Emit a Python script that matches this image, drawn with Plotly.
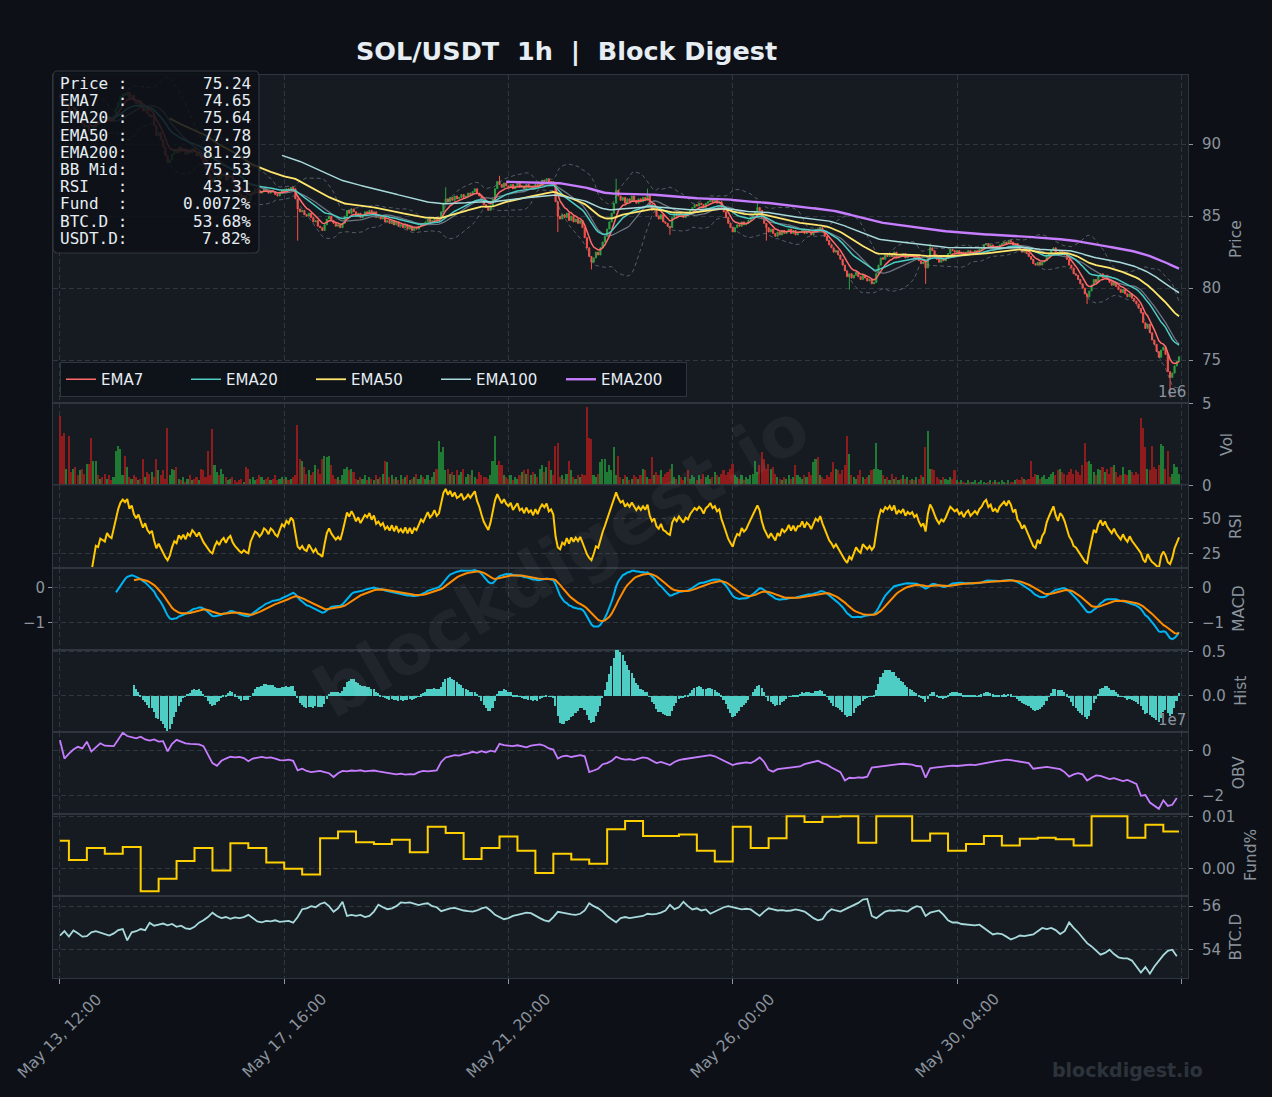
import numpy as np
import pandas as pd
import plotly.graph_objects as go
from plotly.subplots import make_subplots

# ---------------- data ----------------
START = "2025-05-13 12:00"
FIRST_OPEN = 93.4

CLOSE = [
    93.2, 93.0, 92.7, 92.8, 92.4, 92.1, 92.3, 91.9, 91.6, 91.8,
    91.4, 91.2, 91.3, 90.9, 90.8, 91.2, 91.6, 91.5, 91.8, 91.7,
    91.6, 91.9, 91.7, 91.6, 92.0, 92.5, 92.9, 93.3, 93.5, 93.4,
    93.6, 93.2, 93.4, 93.0, 92.8, 93.0, 92.6, 92.3, 92.5, 92.1,
    91.9, 92.0, 91.3, 90.6, 90.8, 90.3, 89.8, 89.2, 88.7, 88.9,
    89.3, 89.6, 89.4, 89.8, 89.5, 89.7, 89.3, 89.6, 89.4, 89.7,
    89.5, 89.2, 89.4, 89.0, 88.6, 88.3, 87.9, 87.6, 87.4, 87.7,
    87.9, 87.6, 87.8, 87.9, 87.5, 87.7, 87.8, 87.3, 87.0, 86.7,
    86.5, 86.3, 86.4, 86.2, 86.1, 86.5, 86.7, 86.9, 86.8, 86.6,
    86.7, 86.9, 86.8, 86.6, 86.8, 86.7, 86.5, 86.4, 86.6, 86.8,
    86.7, 86.9, 86.8, 87.0, 86.9, 86.2, 85.5, 85.3, 85.4, 85.1,
    85.0, 85.2, 84.9, 84.6, 84.7, 84.3, 84.2, 84.0, 84.4, 84.8,
    85.0, 84.7, 84.5, 84.3, 84.4, 84.2, 84.5, 85.0, 85.4, 85.2,
    85.5, 85.3, 85.0, 85.2, 84.9, 85.1, 85.3, 85.2, 85.4, 85.1,
    85.3, 84.9, 85.0, 84.8, 84.9, 84.6, 84.7, 84.5, 84.7, 84.4,
    84.6, 84.3, 84.4, 84.2, 84.4, 84.1, 84.3, 84.0, 84.2, 84.1,
    84.3, 84.5, 84.4, 84.6, 84.8, 84.6, 84.7, 84.9, 84.7, 84.8,
    85.3, 85.9, 86.2, 86.0, 86.3, 86.1, 86.4, 86.2, 86.3, 86.5,
    86.3, 86.4, 86.6, 86.5, 86.7, 86.9, 86.6, 86.4, 86.1, 85.8,
    85.6, 85.4, 85.7, 86.2, 86.9, 87.4, 87.2, 87.0, 87.3, 87.1,
    87.0, 87.2, 86.9, 87.1, 87.3, 87.0, 87.1, 86.9, 87.2, 87.0,
    87.1, 86.9, 87.2, 87.0, 87.3, 87.5, 87.4, 87.6, 87.3, 87.4,
    87.2, 86.0, 85.0, 84.8, 85.1, 84.9, 85.2, 84.7, 85.0, 84.6,
    84.8, 84.5, 84.7, 84.2, 83.5, 82.8, 82.2, 81.8, 82.1, 82.5,
    82.3, 82.8, 83.2, 83.6, 84.1, 84.6, 85.2, 85.9, 86.8, 86.4,
    86.1, 86.3, 85.9, 86.2, 86.0, 86.4, 86.1, 85.9, 86.2, 86.0,
    86.3, 86.1, 86.5, 85.8, 85.4, 85.6, 85.0, 84.8, 85.1, 84.6,
    84.5, 84.3, 84.2, 84.9, 85.2, 85.0, 85.3, 85.1, 84.9, 85.2,
    85.1, 85.4, 85.6, 85.8, 85.7, 85.9, 85.8, 85.6, 85.9, 86.0,
    86.2, 86.0, 86.1, 85.9, 86.0, 85.6, 85.3, 84.9, 84.5, 84.2,
    83.9, 84.2, 84.4, 84.3, 84.6, 84.4, 84.5, 84.7, 84.9, 85.1,
    85.3, 85.6, 85.4, 84.9, 84.5, 84.2, 83.9, 84.1, 83.8, 83.6,
    83.9, 83.7, 84.0, 83.8, 83.9, 84.1, 83.8, 84.0, 83.7, 83.9,
    83.9, 84.1, 83.8, 84.0, 83.9, 83.7, 83.9, 84.1, 84.0, 84.2,
    83.9, 83.6, 83.3, 83.0, 82.8, 82.5, 82.6, 82.3, 82.0, 81.6,
    81.2, 80.8, 81.0, 80.7, 80.9, 81.1, 80.8, 80.6, 80.9, 80.7,
    80.5, 80.6, 80.3, 80.4, 81.0, 81.6, 82.1, 82.0, 82.3, 82.2,
    82.4, 82.2, 82.5, 82.1, 82.3, 82.2, 82.4, 82.1, 82.3, 82.2,
    82.3, 82.1, 82.2, 81.9, 81.7, 81.8, 81.4, 82.2, 82.8, 82.6,
    82.3, 82.0, 81.8, 82.0, 81.9, 82.1, 82.4, 82.7, 82.6, 82.5,
    82.6, 82.4, 82.5, 82.3, 82.5, 82.6, 82.4, 82.5, 82.6, 82.5,
    82.7, 82.8, 83.0, 83.1, 82.9, 83.0, 82.8, 82.9, 82.8, 83.0,
    83.1, 83.2, 83.1, 83.3, 83.2, 83.0, 83.1, 82.8, 82.7, 82.5,
    82.6, 82.4, 82.2, 82.0, 81.7, 81.6, 81.8, 81.6, 81.8, 81.9,
    82.2, 82.4, 82.6, 82.8, 82.5, 82.3, 82.6, 82.5, 82.3, 82.0,
    81.6, 81.4, 81.0, 80.9, 80.6, 80.3, 80.0, 79.6, 79.4, 79.8,
    80.2, 80.6, 80.4, 80.8, 81.0, 80.7, 80.9, 80.6, 80.4, 80.2,
    80.4, 80.1, 79.9, 79.7, 79.9, 79.6, 79.4, 79.6, 79.3, 79.1,
    78.9, 78.6, 78.3, 77.6, 77.2, 77.5, 76.9, 76.4, 76.1, 75.6,
    75.2, 75.7, 75.9, 75.4, 74.2, 73.8, 74.1, 74.6, 74.9, 75.24,
]

WICK_HIGH = {172: 87.0, 196: 87.8, 248: 87.6, 262: 86.9, 311: 85.9, 388: 83.1}
WICK_LOW = {106: 83.3, 222: 83.9, 237: 81.3, 272: 83.7, 315: 83.3, 352: 79.9,
            386: 80.3, 458: 78.9, 495: 72.4}

VOLUME_M = [
    4.2, 3.0, 3.2, 1.0, 3.0, 0.8, 1.0, 1.1, 0.6, 0.9,
    1.0, 0.7, 1.3, 1.3, 2.9, 1.5, 1.5, 0.6, 0.4, 0.5,
    0.7, 0.4, 0.6, 0.3, 0.5, 2.1, 2.4, 2.2, 0.6, 1.8,
    1.1, 0.5, 0.4, 0.6, 0.5, 0.3, 0.4, 1.6, 0.5, 0.8,
    0.7, 0.8, 0.5, 1.6, 0.9, 0.6, 0.9, 0.4, 3.5, 0.6,
    1.0, 0.9, 1.1, 0.4, 0.3, 0.5, 0.2, 0.4, 0.6, 0.3,
    0.4, 0.5, 0.3, 1.0, 0.9, 0.5, 2.1, 0.6, 3.4, 1.2,
    0.8, 0.6, 1.0, 0.7, 0.5, 0.3, 0.4, 0.5, 0.3, 0.2,
    0.3, 0.4, 0.2, 1.1, 1.0, 0.4, 0.5, 0.3, 0.4, 0.6,
    0.5, 0.3, 0.4, 0.5, 0.3, 0.4, 0.6, 0.3, 0.4, 0.5,
    0.4, 0.5, 0.3, 0.4, 0.5, 0.6, 3.7, 1.6, 1.5, 1.1,
    0.7, 0.9, 0.6, 0.8, 1.2, 1.0, 0.7, 1.6, 1.8, 1.7,
    1.8, 1.2, 0.6, 0.4, 0.5, 0.3, 0.6, 1.0, 1.1, 0.9,
    1.0, 0.8, 0.4, 0.3, 0.5, 0.4, 0.6, 0.3, 0.5, 0.4,
    0.3, 0.6, 0.4, 0.5, 0.7, 1.5, 1.4, 0.5, 0.6, 0.4,
    0.5, 0.3, 0.6, 0.4, 0.5, 0.6, 0.3, 0.4, 0.5, 0.7,
    0.4, 0.6, 0.5, 0.4, 0.6, 0.3, 0.5, 0.8, 1.0, 2.7,
    2.0, 2.3, 0.9, 1.0, 0.7, 0.8, 0.6, 0.9, 0.6, 0.8,
    1.0, 0.5, 0.7, 0.6, 0.9, 0.5, 0.4, 0.8, 0.6, 0.5,
    0.5, 0.4, 0.6, 1.5, 3.0, 1.2, 1.5, 1.2, 0.6, 0.5,
    0.4, 0.6, 0.3, 0.5, 0.4, 0.6, 0.8, 0.9, 0.7, 1.0,
    0.6, 0.8, 0.7, 0.5, 1.0, 1.2, 0.8, 1.1, 1.5, 0.9,
    0.6, 2.4, 2.6, 0.5, 0.6, 0.4, 0.7, 1.5, 0.9, 0.5,
    0.4, 0.6, 0.5, 0.7, 0.6, 4.8, 2.9, 2.8, 0.6, 0.5,
    0.7, 1.4, 1.6, 1.6, 0.8, 1.2, 0.9, 2.3, 0.6, 1.8,
    0.5, 0.4, 0.6, 0.5, 0.3, 0.4, 0.6, 0.5, 0.4, 0.6,
    1.0, 0.9, 0.5, 0.4, 1.7, 0.6, 0.8, 0.6, 0.9, 0.5,
    0.7, 0.8, 1.0, 1.3, 0.5, 0.4, 0.6, 0.5, 0.3, 0.5,
    0.9, 0.4, 0.6, 0.5, 0.3, 0.6, 0.4, 0.7, 0.5, 0.6,
    0.4, 0.5, 0.8, 0.6, 0.5, 0.7, 0.9, 0.6, 0.8, 1.0,
    1.3, 0.6, 0.5, 0.4, 0.6, 0.3, 0.5, 0.4, 0.6, 0.7,
    1.5, 0.8, 1.2, 2.0, 1.6, 1.0, 1.3, 1.0, 1.1, 0.7,
    0.5, 0.4, 0.3, 0.5, 0.4, 0.6, 0.4, 0.5, 1.2, 0.6,
    0.5, 0.4, 0.6, 0.5, 0.8, 0.6, 1.4, 1.6, 1.7, 0.6,
    0.5, 0.4, 0.6, 0.5, 0.8, 1.4, 1.0, 0.9, 0.7, 0.9,
    1.2, 3.0, 1.9, 0.6, 0.5, 0.4, 0.6, 0.9, 0.5, 0.4,
    0.5, 0.6, 0.9, 1.0, 2.6, 1.0, 0.9, 0.6, 0.4, 0.5,
    0.3, 0.7, 0.4, 0.5, 0.3, 0.4, 0.6, 0.4, 0.5, 0.3,
    0.4, 0.3, 0.5, 0.4, 0.6, 0.5, 2.3, 3.3, 1.0, 1.0,
    0.9, 0.5, 0.4, 0.3, 0.5, 0.4, 0.3, 0.5, 0.4, 0.9,
    0.3, 0.2, 0.3, 0.2, 0.1, 0.3, 0.2, 0.2, 0.3, 0.1,
    0.2, 0.3, 0.2, 0.1, 0.2, 0.3, 0.2, 0.3, 0.2, 0.2,
    0.3, 0.2, 0.1, 0.3, 0.2, 0.2, 0.3, 0.4, 0.3, 0.5,
    0.4, 0.3, 0.4, 1.5, 0.5, 0.7, 0.6, 0.4, 0.5, 0.6,
    0.4, 0.5, 0.7, 0.8, 0.6, 0.9, 1.0, 0.8, 0.7, 0.6,
    0.8, 1.0, 0.7, 0.9, 0.8, 0.6, 1.2, 2.6, 1.4, 1.5,
    1.3, 0.8, 0.6, 1.0, 0.9, 1.1, 0.8, 1.0, 0.7, 1.1,
    1.2, 0.8, 0.5, 0.6, 1.1, 0.7, 0.6, 0.9, 0.8, 0.6,
    0.8, 0.7, 4.1, 3.5, 2.3, 1.0, 0.9, 2.4, 1.1, 1.0,
    1.2, 2.5, 2.4, 1.0, 2.1, 0.5, 0.7, 1.3, 1.1, 0.7,
]

# OBV (x1e7), one value every 2 hours
OBV_2H_E7 = [
    0.46, -0.35, -0.13, 0.05, 0.17, 0.10, 0.40, -0.04, 0.15, 0.33,
    0.22, 0.22, 0.20, 0.50, 0.79, 0.65, 0.60, 0.55, 0.62, 0.50,
    0.45, 0.50, 0.40, 0.42, -0.03, 0.30, 0.48, 0.40, 0.32, 0.30,
    0.30, 0.28, 0.20, -0.20, -0.55, -0.67, -0.45, -0.35, -0.27, -0.30,
    -0.28, -0.33, -0.47, -0.35, -0.30, -0.28, -0.32, -0.30, -0.35, -0.42,
    -0.43, -0.40, -0.45, -0.87, -0.80, -0.90, -0.95, -0.93, -0.90, -0.95,
    -1.00, -1.17, -1.00, -0.90, -0.92, -0.88, -0.90, -0.87, -0.92, -0.90,
    -0.88, -0.92, -0.95, -1.00, -1.03, -1.05, -1.02, -1.06, -1.04, -1.05,
    -0.95, -0.90, -0.92, -0.90, -0.88, -0.50, -0.30, -0.25, -0.20, -0.22,
    -0.15, -0.12, -0.05, -0.10, -0.02, -0.08, 0.00, -0.05, 0.30, 0.25,
    0.22, 0.20, 0.24, 0.18, 0.15, 0.22, 0.25, 0.28, 0.22, 0.10,
    0.05, -0.35, -0.25, -0.22, -0.28, -0.25, -0.20, -0.25, -0.95, -0.88,
    -0.80, -0.60, -0.55, -0.45, -0.27, -0.35, -0.40, -0.38, -0.42, -0.35,
    -0.30, -0.33, -0.45, -0.55, -0.50, -0.58, -0.64, -0.50, -0.42, -0.38,
    -0.35, -0.30, -0.28, -0.27, -0.22, -0.20, -0.25, -0.35, -0.45, -0.55,
    -0.64, -0.58, -0.55, -0.52, -0.55, -0.45, -0.30, -0.50, -0.85, -0.93,
    -0.82, -0.80, -0.78, -0.75, -0.72, -0.70, -0.60, -0.55, -0.48, -0.45,
    -0.55, -0.62, -0.75, -0.85, -0.95, -1.32, -1.20, -1.22, -1.18, -1.20,
    -1.15, -0.75, -0.72, -0.70, -0.68, -0.65, -0.62, -0.60, -0.58, -0.60,
    -0.62, -0.68, -0.70, -1.20, -0.78, -0.75, -0.72, -0.70, -0.68, -0.66,
    -0.68, -0.66, -0.65, -0.62, -0.64, -0.60, -0.55, -0.50, -0.47, -0.45,
    -0.43, -0.40, -0.42, -0.45, -0.50, -0.52, -0.55, -0.80, -0.78, -0.75,
    -0.72, -0.75, -0.80, -0.82, -0.95, -1.15, -1.05, -1.00, -1.05, -1.32,
    -1.20, -1.10, -1.12, -1.18, -1.26, -1.22, -1.30, -1.35, -1.30, -1.40,
    -1.47, -2.00, -1.97, -2.30, -2.43, -2.58, -2.20, -2.45, -2.40, -2.10,
]

# BTC dominance (%), one value every 2 hours
BTCD_2H = [
    54.65, 54.85, 54.60, 54.88, 54.75, 54.60, 54.62, 54.80, 54.85, 54.78,
    54.70, 54.65, 54.75, 54.90, 54.95, 54.43, 54.80, 54.85, 54.95, 54.90,
    55.24, 55.10, 55.15, 55.20, 55.12, 55.18, 55.05, 55.10, 54.98, 54.95,
    55.05, 55.24, 55.35, 55.50, 55.70, 55.55, 55.45, 55.50, 55.42, 55.48,
    55.45, 55.50, 55.60, 55.45, 55.30, 55.26, 55.32, 55.30, 55.35, 55.28,
    55.30, 55.32, 55.24, 55.50, 55.86, 55.90, 56.00, 55.95, 56.10, 56.17,
    56.00, 55.74, 55.90, 56.20, 55.55, 55.60, 55.55, 55.60, 55.50, 55.55,
    55.75, 56.07, 55.95, 55.86, 55.90, 56.00, 56.17, 56.15, 56.17, 56.10,
    56.05, 56.10, 56.13, 56.00, 55.95, 55.77, 55.85, 55.90, 55.92, 55.85,
    55.80, 55.77, 55.75, 55.80, 55.90, 55.95, 55.80, 55.60, 55.50, 55.40,
    55.45, 55.55, 55.60, 55.65, 55.70, 55.68, 55.55, 55.45, 55.35, 55.30,
    55.50, 55.74, 55.70, 55.65, 55.62, 55.60, 55.65, 55.80, 56.13, 56.00,
    55.90, 55.75, 55.55, 55.40, 55.26, 55.45, 55.50, 55.45, 55.48, 55.50,
    55.55, 55.65, 55.62, 55.65, 55.70, 55.80, 56.06, 55.86, 55.95, 56.20,
    56.00, 55.85, 55.90, 55.80, 55.85, 55.65, 55.75, 55.85, 55.95, 56.00,
    55.95, 55.90, 55.85, 55.88, 55.85, 55.70, 55.55, 55.75, 55.90, 55.85,
    55.80, 55.82, 55.78, 55.80, 55.85, 55.80, 55.75, 55.60, 55.45, 55.35,
    55.40, 55.70, 55.86, 55.80, 55.75, 55.85, 55.95, 56.06, 56.15, 56.30,
    56.33, 55.55, 55.45, 55.60, 55.75, 55.80, 55.78, 55.82, 55.80, 55.75,
    55.90, 56.00, 55.95, 55.55, 55.70, 55.75, 55.80, 55.60, 55.35, 55.25,
    55.25, 55.18, 55.15, 55.15, 55.12, 55.15, 55.00, 54.85, 54.70, 54.75,
    54.72, 54.60, 54.47, 54.55, 54.65, 54.62, 54.65, 54.70, 54.85, 55.00,
    54.95, 55.00, 54.90, 54.72, 54.85, 55.25, 55.00, 54.80, 54.55, 54.30,
    54.15, 53.95, 53.77, 53.85, 54.00, 53.80, 53.65, 53.60, 53.60, 53.50,
    53.20, 52.95, 53.20, 52.90, 53.23, 53.50, 53.75, 53.95, 54.00, 53.70,
]

# funding rate (%) per 8h funding period (first value from the start, then at 16:00/00:00/08:00)
FUND_PCT = [
    0.0054, 0.0017, 0.0040, 0.0029, 0.0042, -0.0043, -0.0019, 0.0015, 0.0040, -0.0003,
    0.0049, 0.0040, 0.0012, 0.0000, -0.0011, 0.0059, 0.0072, 0.0051, 0.0048, 0.0056,
    0.0032, 0.0081, 0.0069, 0.0019, 0.0040, 0.0062, 0.0035, -0.0008, 0.0029, 0.0018,
    0.0010, 0.0076,
    0.0092, 0.0063, 0.0063, 0.0066, 0.0035, 0.0014, 0.0081, 0.0040, 0.0059, 0.0101,
    0.0090, 0.0100, 0.0101, 0.0050, 0.0101, 0.0101, 0.0054, 0.0068, 0.0035, 0.0048,
    0.0063, 0.0045, 0.0058, 0.0060, 0.0057, 0.0045, 0.0101, 0.0101, 0.0060, 0.0085,
    0.0072,
]

XTICK_HOURS = [0, 100, 200, 300, 400, 500]
XTICK_LABELS = ["May 13, 12:00", "May 17, 16:00", "May 21, 20:00",
                "May 26, 00:00", "May 30, 04:00", ""]

INFO_LABELS = ["Price :", "EMA7  :", "EMA20 :", "EMA50 :", "EMA200:",
               "BB Mid:", "RSI   :", "Fund  :", "BTC.D :", "USDT.D:"]
INFO_VALUES = ["75.24", "74.65", "75.64", "77.78", "81.29",
               "75.53", "43.31", "0.0072%", "53.68%", "7.82%"]

assert len(CLOSE) == 500 and len(VOLUME_M) == 500
assert len(OBV_2H_E7) == 250 and len(BTCD_2H) == 250 and len(FUND_PCT) == 63

# ---------------- styling ----------------
BG = "#0d1117"
PANEL = "#161b22"
GRID = "#30363d"
TXT = "#8b949e"
WHITE = "#e6edf3"
UP = "#2ea043"
DOWN = "#f85149"
VOL_UP = "#1f7a33"
VOL_DOWN = "#8e1c1c"

W, H = 1272, 1097
ML, MR, MT, MB = 53, 84, 75, 119
PW, PH = W - ML - MR, H - MT - MB


def xp(px):
    return (px - ML) / PW


def yp(py):
    return (H - MB - py) / PH


# ---------------- derived series ----------------
t0 = pd.Timestamp(START)
n = len(CLOSE)
times = t0 + pd.to_timedelta(np.arange(n), unit="h")
close = pd.Series(CLOSE, dtype=float)
open_ = close.shift(1)
open_.iloc[0] = FIRST_OPEN
high = np.maximum(open_, close).to_numpy().copy()
low = np.minimum(open_, close).to_numpy().copy()
for k, v in WICK_HIGH.items():
    high[k] = max(high[k], v)
for k, v in WICK_LOW.items():
    low[k] = min(low[k], v)


def ema(s, span):
    e = s.ewm(span=span, adjust=False).mean()
    e.iloc[:span - 1] = np.nan
    return e


ema7, ema20, ema50, ema100, ema200 = (ema(close, s) for s in (7, 20, 50, 100, 200))
bb_mid = close.rolling(20).mean()
bb_std = close.rolling(20).std(ddof=0)
bb_up, bb_lo = bb_mid + 2 * bb_std, bb_mid - 2 * bb_std

# Wilder RSI(14)
delta = close.diff()
gain = delta.clip(lower=0).ewm(alpha=1 / 14, adjust=False, min_periods=14).mean()
loss = (-delta.clip(upper=0)).ewm(alpha=1 / 14, adjust=False, min_periods=14).mean()
rsi = 100 - 100 / (1 + gain / loss)

macd = close.ewm(span=12, adjust=False).mean() - close.ewm(span=26, adjust=False).mean()
macd.iloc[:25] = np.nan
signal = macd.ewm(span=9, adjust=False, min_periods=9).mean()
hist = macd - signal

vol_colors = [VOL_UP if c >= o else VOL_DOWN for c, o in zip(close, open_)]

t2h = t0 + pd.to_timedelta(np.arange(len(OBV_2H_E7)) * 2, unit="h")
fund_hours = [0] + [4 + 8 * k for k in range(len(FUND_PCT) - 1)]
fund_t = list(t0 + pd.to_timedelta(fund_hours, unit="h")) + [times[-1]]
fund_v = FUND_PCT + [FUND_PCT[-1]]

bar_w = 0.72 * 3600 * 1000

# ---------------- figure ----------------
fig = make_subplots(rows=8, cols=1, shared_xaxes=True, vertical_spacing=0,
                    row_heights=[4, 1, 1, 1, 1, 1, 1, 1])

fig.add_trace(go.Candlestick(
    x=times, open=open_, high=high, low=low, close=close,
    increasing=dict(line=dict(color=UP, width=1), fillcolor=UP),
    decreasing=dict(line=dict(color=DOWN, width=1), fillcolor=DOWN),
    whiskerwidth=0, showlegend=False, name="SOL"), row=1, col=1)

for s in (bb_up, bb_lo):
    fig.add_trace(go.Scatter(x=times, y=s, mode="lines", showlegend=False,
                             line=dict(color="rgba(139,148,158,0.55)", width=1, dash="4px,3px")),
                  row=1, col=1)
fig.add_trace(go.Scatter(x=times, y=bb_mid, mode="lines", showlegend=False,
                         line=dict(color="#6e7681", width=1.3)), row=1, col=1)

for name, s, col, w in (("EMA7", ema7, "#ff6b6b", 1.5), ("EMA20", ema20, "#4ecdc4", 1.5),
                        ("EMA50", ema50, "#ffe66d", 1.8), ("EMA100", ema100, "#a8dadc", 1.5),
                        ("EMA200", ema200, "#c77dff", 2.4)):
    fig.add_trace(go.Scatter(x=times, y=s, mode="lines", name=name,
                             line=dict(color=col, width=w)), row=1, col=1)

fig.add_trace(go.Bar(x=times, y=VOLUME_M, marker_color=vol_colors, marker_line_width=0,
                     width=bar_w, showlegend=False), row=2, col=1)
fig.add_trace(go.Scatter(x=times, y=rsi, mode="lines", showlegend=False,
                         line=dict(color="#ffc800", width=2)), row=3, col=1)
fig.add_trace(go.Scatter(x=times, y=macd, mode="lines", showlegend=False,
                         line=dict(color="#00b4f0", width=2)), row=4, col=1)
fig.add_trace(go.Scatter(x=times, y=signal, mode="lines", showlegend=False,
                         line=dict(color="#ff8c00", width=2)), row=4, col=1)
fig.add_trace(go.Bar(x=times, y=hist, marker_color="#4ecdc4", marker_line_width=0,
                     width=bar_w, showlegend=False), row=5, col=1)
fig.add_trace(go.Scatter(x=t2h, y=OBV_2H_E7, mode="lines", showlegend=False,
                         line=dict(color="#c77dff", width=1.8)), row=6, col=1)
fig.add_trace(go.Scatter(x=fund_t, y=fund_v, mode="lines", line_shape="hv", showlegend=False,
                         line=dict(color="#ffd000", width=2)), row=7, col=1)
fig.add_trace(go.Scatter(x=t2h, y=BTCD_2H, mode="lines", showlegend=False,
                         line=dict(color="#a8dadc", width=1.8)), row=8, col=1)
# invisible copy of MACD on a left-hand twin axis (left tick labels of the MACD panel)
fig.add_trace(go.Scatter(x=times, y=macd, mode="lines", showlegend=False, hoverinfo="skip",
                         line=dict(width=0, color="rgba(0,0,0,0)"), xaxis="x4", yaxis="y9"))

xr = [t0 + pd.Timedelta(hours=-3.1), t0 + pd.Timedelta(hours=503)]
tickvals = list(t0 + pd.to_timedelta(XTICK_HOURS, unit="h"))
fig.update_xaxes(range=xr, tickvals=tickvals, showticklabels=False, showgrid=True,
                 gridcolor=GRID, griddash="5px,3px", gridwidth=1, zeroline=False,
                 showline=True, linecolor=GRID, linewidth=1, mirror=True,
                 rangeslider_visible=False, ticks="")
fig.update_xaxes(ticks="outside", ticklen=5, tickcolor=TXT, row=8, col=1)

axis_common = dict(side="right", showgrid=True, gridcolor=GRID, griddash="5px,3px",
                   zeroline=False, showline=True, linecolor=GRID, linewidth=1, mirror=True,
                   ticks="outside", ticklen=4, tickcolor=TXT,
                   tickfont=dict(color=TXT, size=15), ticklabelstandoff=6)
Y_SPECS = [
    ("Price", [72.0, 94.8], [75, 80, 85, 90], None),
    ("Vol", [0, 5.02], [0, 5], None),
    ("RSI", [15.0, 73.6], [25, 50], None),
    ("MACD", [-1.75, 0.56], [-1, 0], None),
    ("Hist", [-0.41, 0.523], [0.0, 0.5], ".1f"),
    ("OBV", [-2.8, 0.84], [-2, 0], None),
    ("Fund%", [-0.0052, 0.01058], [0.0, 0.01], ".2f"),
    ("BTC.D", [52.7, 56.47], [54, 56], None),
]
for i, (title, rng, tv, fmt) in enumerate(Y_SPECS, start=1):
    kw = dict(axis_common)
    kw.update(range=rng, tickvals=tv,
              title=dict(text=title, font=dict(color=TXT, size=15.5), standoff=10))
    if fmt:
        kw["tickformat"] = fmt
    fig.update_yaxes(row=i, col=1, **kw)

fig.update_layout(
    yaxis9=dict(overlaying="y4", side="left", anchor="x4", range=[-1.75, 0.56],
                tickvals=[0, -1], ticktext=["0", "\u22121"], showgrid=False, zeroline=False,
                showline=False, ticks="outside", ticklen=4, tickcolor=TXT,
                tickfont=dict(color=TXT, size=15)),
)

annotations = []
# x tick labels (rotated, centred under each tick)
for h, lab in zip(XTICK_HOURS, XTICK_LABELS):
    if not lab:
        continue
    annotations.append(dict(x=t0 + pd.Timedelta(hours=h), xref="x8", y=yp(1036), yref="paper",
                            text=lab, textangle=-45, showarrow=False,
                            xanchor="center", yanchor="middle",
                            font=dict(color=TXT, size=15.5)))
# title
annotations.append(dict(x=xp(566), y=yp(51), xref="paper", yref="paper",
                        text="<b>SOL/USDT\u00a0\u00a01h\u00a0\u00a0|\u00a0\u00a0Block Digest</b>",
                        showarrow=False, xanchor="center", yanchor="middle",
                        font=dict(color=WHITE, size=25.5)))
# axis offset texts
annotations.append(dict(x=1.0, y=yp(392), xref="paper", yref="paper", text="1e6",
                        showarrow=False, xanchor="right", yanchor="middle",
                        font=dict(color=TXT, size=15)))
annotations.append(dict(x=1.0, y=yp(720), xref="paper", yref="paper", text="1e7",
                        showarrow=False, xanchor="right", yanchor="middle",
                        font=dict(color=TXT, size=15)))
# watermarks
annotations.append(dict(x=xp(562), y=yp(560), xref="paper", yref="paper",
                        text="<b>blockdigest.io</b>", textangle=-30, showarrow=False,
                        xanchor="center", yanchor="middle",
                        font=dict(color="rgba(255,255,255,0.045)", size=70)))
annotations.append(dict(x=xp(1205), y=yp(1070), xref="paper", yref="paper",
                        text="<b>blockdigest.io</b>", showarrow=False,
                        xanchor="right", yanchor="middle",
                        font=dict(color="#2d333b", size=19)))
# info box text
for i, (lab, val) in enumerate(zip(INFO_LABELS, INFO_VALUES)):
    yy = yp(83.5 + 17.2 * i)
    annotations.append(dict(x=xp(58), y=yy, xref="paper", yref="paper",
                            text=lab.replace(" ", "\u00a0"), showarrow=False,
                            xanchor="left", yanchor="middle",
                            font=dict(color=WHITE, size=16, family="DejaVu Sans Mono")))
    annotations.append(dict(x=xp(252.5), y=yy, xref="paper", yref="paper",
                            text=val, showarrow=False, xanchor="right", yanchor="middle",
                            font=dict(color=WHITE, size=16, family="DejaVu Sans Mono")))

# rounded info box
x0, x1 = xp(53), xp(259)
y1, y0 = yp(71), yp(253)
rx, ry = 5 / PW, 5 / PH
path = (f"M {x0+rx},{y1} L {x1-rx},{y1} Q {x1},{y1} {x1},{y1-ry} "
        f"L {x1},{y0+ry} Q {x1},{y0} {x1-rx},{y0} L {x0+rx},{y0} "
        f"Q {x0},{y0} {x0},{y0+ry} L {x0},{y1-ry} Q {x0},{y1} {x0+rx},{y1} Z")
shapes = [dict(type="path", path=path, xref="paper", yref="paper", layer="above",
               fillcolor="rgba(13,17,23,0.86)", line=dict(color=GRID, width=1.2))]

fig.update_layout(
    width=W, height=H,
    margin=dict(l=ML, r=MR, t=MT, b=MB),
    paper_bgcolor=BG, plot_bgcolor=PANEL,
    font=dict(family="DejaVu Sans", color=TXT),
    showlegend=True,
    legend=dict(orientation="h", x=xp(60), y=yp(397), xanchor="left", yanchor="bottom",
                bgcolor="rgba(13,17,23,0.85)", bordercolor=GRID, borderwidth=1,
                font=dict(color=WHITE, size=15), itemwidth=30,
                entrywidth=80, entrywidthmode="pixels"),
    bargap=0,
    annotations=annotations,
    shapes=shapes,
    hovermode=False,
)

fig.write_html("out.html")
